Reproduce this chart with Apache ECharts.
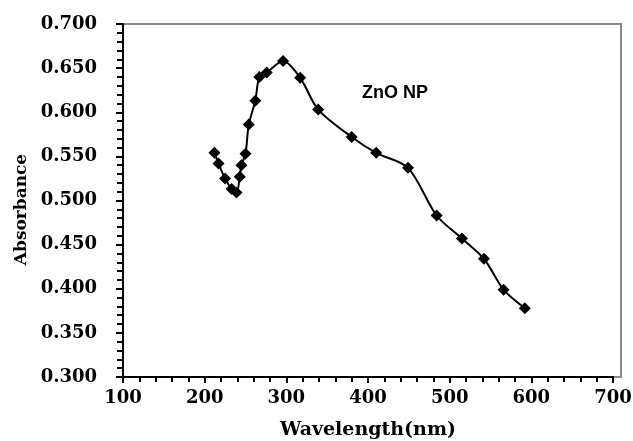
<!DOCTYPE html>
<html>
<head>
<meta charset="utf-8">
<script src="https://cdn.jsdelivr.net/npm/echarts@6/dist/echarts.min.js"></script>
<style>html,body{margin:0;padding:0;background:#fff}#c{width:633px;height:441px}</style>
</head>
<body>
<div id="c"></div>
<script>
var wavelength = [212, 217, 225, 233, 239, 243, 245, 250, 254, 262, 267, 276, 296, 317, 339, 380, 410, 449, 484, 515, 542, 566, 592];
var absorbance = [0.554, 0.542, 0.525, 0.513, 0.509, 0.527, 0.540, 0.553, 0.586, 0.613, 0.640, 0.645, 0.658, 0.639, 0.603, 0.572, 0.554, 0.537, 0.483, 0.457, 0.434, 0.399, 0.378];
var seriesLabel = 'ZnO NP';
var xTitle = 'Wavelength(nm)';
var yTitle = 'Absorbance';

var pts = wavelength.map(function (w, i) { return [w, absorbance[i]]; });
var chart = echarts.init(document.getElementById('c'), null, {renderer: 'canvas'});
var serif = '"DejaVu Serif", "Liberation Serif", serif';
chart.setOption({
  animation: false,
  title: {
    text: seriesLabel, left: 362, top: 84, padding: 0,
    textStyle: {fontFamily: '"Liberation Sans", Arial, sans-serif', fontWeight: 'bold', fontSize: 18, color: '#000'}
  },
  grid: [
    {left: 123, right: 20, top: 24, bottom: 64, containLabel: false, outerBoundsMode: 'none'},
    {left: 123, right: 12, top: 24, bottom: 64, containLabel: false, outerBoundsMode: 'none',
     show: true, borderColor: '#8a8a8a', borderWidth: 2, backgroundColor: 'transparent', z: 0}
  ],
  xAxis: [
    {
      type: 'value', gridIndex: 0, min: 100, max: 700, interval: 100,
      name: xTitle, nameLocation: 'middle', nameGap: 44,
      nameTextStyle: {fontFamily: serif, fontWeight: 'bold', fontSize: 19, color: '#000'},
      axisLine: {show: true, onZero: false, lineStyle: {color: '#000', width: 2}},
      axisTick: {show: true, inside: false, length: 6, lineStyle: {color: '#000', width: 2}},
      minorTick: {show: true, splitNumber: 5, length: 5, lineStyle: {color: '#000', width: 2}},
      splitLine: {show: false},
      axisLabel: {fontFamily: serif, fontWeight: 'bold', fontSize: 18, color: '#000', margin: 12}
    },
    {type: 'value', gridIndex: 1, min: 0, max: 1, show: false}
  ],
  yAxis: [
    {
      type: 'value', gridIndex: 0, min: 0.3, max: 0.7, interval: 0.05,
      name: yTitle, nameLocation: 'middle', nameGap: 88, nameRotate: 90,
      nameTextStyle: {fontFamily: serif, fontWeight: 'bold', fontSize: 17, color: '#000', padding: [0, 0, 0, -18]},
      axisLine: {show: true, onZero: false, lineStyle: {color: '#000', width: 2}},
      axisTick: {show: true, inside: false, length: 7, lineStyle: {color: '#000', width: 2}},
      minorTick: {show: true, splitNumber: 5, length: 6, lineStyle: {color: '#000', width: 2}},
      splitLine: {show: false},
      axisLabel: {fontFamily: serif, fontWeight: 'bold', fontSize: 18, color: '#000', margin: 26,
        formatter: function (v) { return v.toFixed(3); }}
    },
    {type: 'value', gridIndex: 1, min: 0, max: 1, show: false}
  ],
  series: [{
    type: 'line', xAxisIndex: 0, yAxisIndex: 0, data: pts,
    smooth: 0.3,
    symbol: 'diamond', symbolSize: 12,
    lineStyle: {color: '#000', width: 2},
    itemStyle: {color: '#000'},
    z: 5
  }]
});
</script>
</body>
</html>
